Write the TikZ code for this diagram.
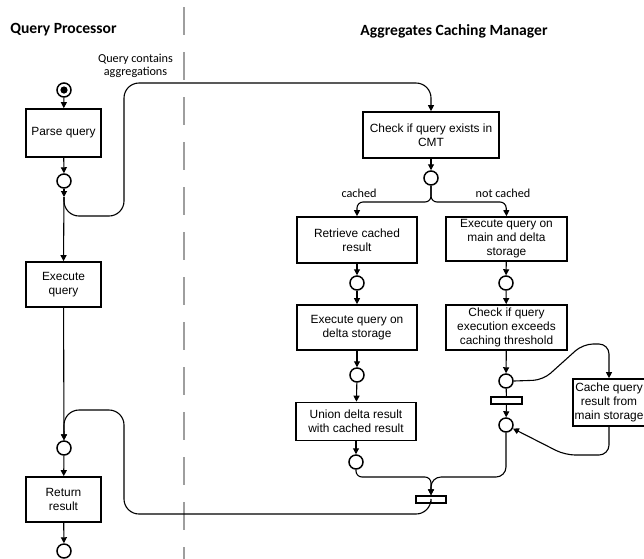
\documentclass[tikz,border=0pt]{standalone}
\usepackage{fontspec}
\setmainfont{Liberation Sans}
\newfontfamily\calibri{Carlito}
\usetikzlibrary{arrows.meta}
\begin{document}
\begin{tikzpicture}[x=1pt,y=-1pt,
  box/.style={draw, line width=1.7pt, align=center, inner sep=0pt,
    font=\fontsize{11.9}{14}\selectfont},
  place/.style={circle, draw, line width=1.5pt, minimum size=14pt, inner sep=0pt},
  tbar/.style={draw, line width=1.5pt, minimum width=30pt, minimum height=7pt, inner sep=0pt},
  conn/.style={line width=1.1pt},
  flow/.style={conn, -{Triangle[length=6pt,width=6pt]}},
  title/.style={font=\calibri\bfseries\fontsize{15.6}{18}\selectfont},
  lbl/.style={font=\calibri\fontsize{12.2}{13}\selectfont, align=center, inner sep=0pt}
]
\useasboundingbox (0,0) rectangle (644,558);
\clip (0,0) rectangle (644,558);

% swimlane divider
\draw[line width=1.3pt, draw=black!38, dash pattern=on 28pt off 17pt] (184,7) -- (184,560);

% titles
\node[title] (tqp) at (63.5,30) {Query Processor};
\node[title] (tacm) at (454,31) {Aggregates Caching Manager};

% left lane
\node[place] (start) at (64,90) {};
\fill (start.center) circle (3.6pt);
\node[box, minimum width=75pt, minimum height=48pt] (parse) at (63.5,133) {Parse query};
\node[place] (c1) at (64,181) {};
\coordinate (s1) at (64,197);
\node[box, minimum width=75pt, minimum height=45pt] (exec) at (63.5,284.5) {Execute\\query};
\node[place] (c2) at (64,448) {};
\node[box, minimum width=75pt, minimum height=45pt] (ret) at (63.5,499.5) {Return\\result};
\node[place] (c3) at (64,551) {};

\node[lbl] (qca) at (135.5,65.5) {Query contains\\aggregations};

% right lane, middle column
\node[box, minimum width=136pt, minimum height=46pt] (check) at (431,135) {Check if query exists in\\CMT};
\node[place] (c4) at (431,178) {};
\node[box, minimum width=120pt, minimum height=46pt] (retr) at (357,240) {Retrieve cached\\result};
\node[place] (c5) at (357,283) {};
\node[box, minimum width=120pt, minimum height=45pt] (delta) at (357,327.5) {Execute query on\\delta storage};
\node[place] (c6) at (357,375) {};
\node[box, minimum width=120pt, minimum height=38pt] (union) at (356,421.5) {Union delta result\\with cached result};
\node[place] (c7) at (356,462) {};
\node[tbar] (bar1) at (431,499.5) {};

\node[lbl] (lcached) at (359,193) {cached};
\node[lbl] (lnot) at (503,193) {not cached};

% right column
\node[box, minimum width=121pt, minimum height=44pt] (emain) at (506.5,239) {Execute query on\\main and delta\\storage};
\node[place] (c8) at (506,283) {};
\node[box, minimum width=121pt, minimum height=45pt] (cexec) at (506.5,327.5) {Check if query\\execution exceeds\\caching threshold};
\node[place] (c9) at (506,381) {};
\node[tbar, minimum width=31pt] (bar2) at (506.5,400.5) {};
\node[place] (c10) at (506,425) {};
\node[box, minimum width=72pt, minimum height=47pt] (cache) at (609,402.5) {Cache query\\result from\\main storage};

% connectors left
\draw[flow] (start) -- (parse);
\draw[flow] (parse) -- (c1);
\draw[flow] (c1) -- (s1);
\draw[flow] (s1) -- (exec.north);
\draw[flow, rounded corners=15pt] (s1) -- (64,216) -- (124,216) -- (124,83) -- (431,83) -- (check.north);
\draw[flow] (exec) -- (c2);
\draw[flow, rounded corners=15pt] (bar1.south) -- (431,514) -- (124,514) -- (124,410) -- (64,410) -- (c2.north);
\draw[flow] (c2) -- (ret);
\draw[flow] (ret) -- (c3);

% connectors middle
\draw[flow] (check) -- (c4);
\draw[flow, rounded corners=6pt] (c4.south) -- (431,202) -- (357,202) -- (retr.north);
\draw[flow, rounded corners=6pt] (c4.south) -- (431,202) -- (506,202) -- (emain.north);
\draw[flow] (retr) -- (c5);
\draw[flow] (c5) -- (delta);
\draw[flow] (delta) -- (c6);
\draw[flow] (c6) -- (union);
\draw[flow] (union) -- (c7);
\draw[flow, rounded corners=6pt] (c7.south) -- (356,477) -- (431,477) -- (bar1.north);
\draw[flow, rounded corners=10pt] (c10.south) -- (506,477) -- (431,477) -- (bar1.north);

% connectors right
\draw[flow] (emain) -- (c8);
\draw[flow] (c8) -- (cexec);
\draw[flow] (cexec) -- (c9);
\draw[conn] (c9) -- (bar2);
\draw[flow] (bar2) -- (c10);
\draw[flow, rounded corners=10pt] (c9.east) -- (543,380) -- (583,344) -- (609,344) -- (cache.north);
\draw[flow, rounded corners=10pt] (cache.south) -- (609,455) -- (565,455) -- (c10);
\end{tikzpicture}
\end{document}
